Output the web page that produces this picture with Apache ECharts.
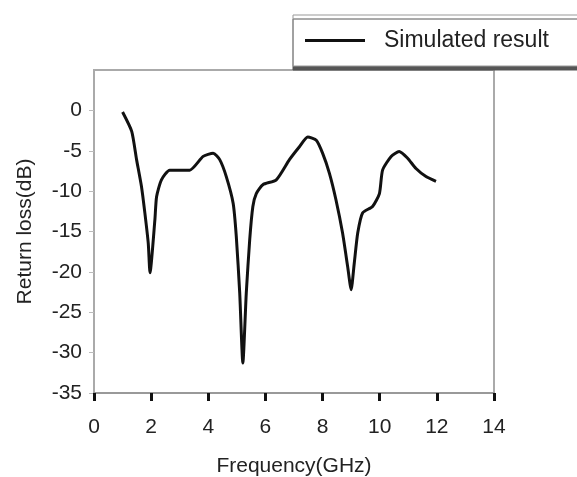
<!DOCTYPE html>
<html lang="en">
  <head>
    <meta charset="UTF-8" />
    <title>Return loss</title>
    <script src="https://cdn.jsdelivr.net/npm/echarts@6/dist/echarts.min.js"></script>
    <style>
      html, body { margin: 0; padding: 0; background: #fff; }
      #chart { width: 577px; height: 477px; }
    </style>
  </head>
  <body>
    <div id="chart"></div>
    <script>
      // frequency (GHz) and simulated return loss (dB)
      var freq = [1.0, 1.32, 1.49, 1.66, 1.78, 1.9, 1.96, 2.13, 2.19, 2.36, 2.65, 3.35, 3.82, 4.17, 4.4, 4.63, 4.87, 4.98, 5.1, 5.21,
                  5.33, 5.45, 5.56, 5.68, 5.91, 6.38, 6.84, 7.19, 7.48, 7.78, 8.0, 8.24, 8.47, 8.7, 8.88, 9.0, 9.11, 9.23, 9.4, 9.75,
                  9.99, 10.1, 10.4, 10.68, 10.97, 11.27, 11.62, 11.97];
      var returnLoss = [-0.2, -2.6, -6.1, -9.4, -12.7, -16.5, -20.1, -13.6, -10.7, -8.6, -7.4, -7.4, -5.7, -5.3, -6.1, -8.2, -11.5, -15.6, -22.6, -31.3,
                        -22.6, -16.0, -11.9, -10.3, -9.2, -8.6, -6.1, -4.5, -3.3, -3.7, -5.3, -7.8, -11.1, -15.2, -19.4, -22.2, -18.9, -15.2, -12.7, -11.9,
                        -10.3, -7.4, -5.7, -5.1, -5.9, -7.2, -8.2, -8.8];
      var seriesName = "Simulated result";
      var xTicks = [0, 14, 2];   // min, max, step
      var yTicks = [-35, 5, 5];

      var points = freq.map(function (f, i) { return [f, returnLoss[i]]; });
      var font = "Liberation Sans";

      var myChart = echarts.init(document.getElementById("chart"));
      var option = {
        animation: false,
        textStyle: { fontFamily: font },
        grid: {
          left: 94, right: 83, top: 70, bottom: 84,
          outerBoundsMode: "none",
          show: true, borderColor: "#aaa", borderWidth: 2
        },
        legend: {
          left: 293, top: 15,
          padding: [14, 40, 14, 12],
          backgroundColor: "#fff",
          borderColor: "#999", borderWidth: 1,
          shadowColor: "#555", shadowOffsetY: 4, shadowOffsetX: 0, shadowBlur: 0,
          icon: "rect",
          itemWidth: 60, itemHeight: 3,
          textStyle: { fontSize: 23, color: "#222", fontFamily: font, padding: [0, 0, 0, 14] },
          data: [seriesName]
        },
        xAxis: {
          type: "value",
          min: xTicks[0], max: xTicks[1], interval: xTicks[2],
          name: "Frequency(GHz)",
          nameLocation: "middle", nameGap: 63,
          nameTextStyle: { fontSize: 21, color: "#222", fontFamily: font },
          axisLine: { onZero: false, lineStyle: { color: "#999", width: 2 } },
          axisTick: { inside: false, length: 8, lineStyle: { color: "#111", width: 3 } },
          axisLabel: { fontSize: 21, color: "#222", margin: 24 },
          splitLine: { show: false }
        },
        yAxis: {
          type: "value",
          min: yTicks[0], max: yTicks[1], interval: yTicks[2],
          name: "Return loss(dB)",
          nameLocation: "middle", nameGap: 58,
          nameTextStyle: { fontSize: 21, color: "#222", fontFamily: font },
          axisLine: { onZero: false, lineStyle: { color: "#aaa", width: 2 } },
          axisTick: { length: 5, lineStyle: { color: "#bbb" } },
          axisLabel: { fontSize: 21, color: "#222", margin: 12, showMaxLabel: false },
          splitLine: { show: false }
        },
        series: [
          {
            name: seriesName,
            type: "line",
            data: points,
            symbol: "none",
            smooth: 0.2,
            itemStyle: { color: "#111" },
            lineStyle: { color: "#111", width: 3 }
          }
        ]
      };
      myChart.setOption(option);
    </script>
  </body>
</html>
